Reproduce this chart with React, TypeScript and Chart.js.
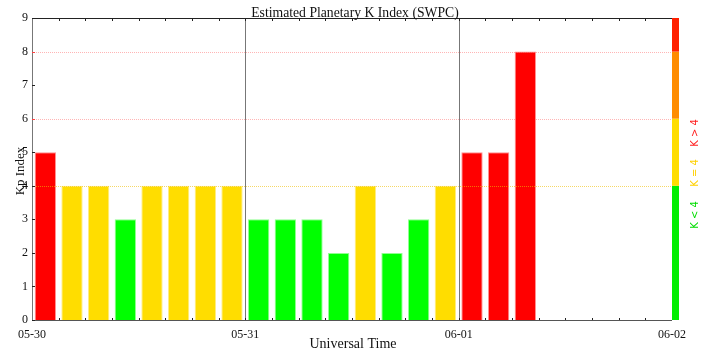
import React, { useEffect, useRef } from "react";
import { Chart, registerables } from "chart.js";

Chart.register(...registerables);

// ---- data ----
const dayLabels = ["05-30", "05-31", "06-01", "06-02"];
const timeSlots = [
  "05-30 00:00", "05-30 03:00", "05-30 06:00", "05-30 09:00",
  "05-30 12:00", "05-30 15:00", "05-30 18:00", "05-30 21:00",
  "05-31 00:00", "05-31 03:00", "05-31 06:00", "05-31 09:00",
  "05-31 12:00", "05-31 15:00", "05-31 18:00", "05-31 21:00",
  "06-01 00:00", "06-01 03:00", "06-01 06:00",
];
const kpValues = [5, 4, 4, 3, 4, 4, 4, 4, 3, 3, 3, 2, 4, 2, 3, 4, 5, 5, 8];
const yTickValues = [0, 1, 2, 3, 4, 5, 6, 7, 8, 9];
const titleText = "Estimated Planetary K Index (SWPC)";
const xTitleText = "Universal Time";
const yTitleText = "Kp Index";
const legendLabels = ["K < 4", "K = 4", "K > 4"];

const RED = "#ff0000";
const YELLOW = "#ffdd00";
const GREEN = "#00ff00";
const SERIF = "'Liberation Serif', 'DejaVu Serif', serif";

function slotToHours(s: string): number {
  const [d, t] = s.split(" ");
  const day = dayLabels.indexOf(d);
  const h = parseInt(t.split(":")[0], 10);
  return day * 24 + h + 1.5;
}

const decorPlugin = {
  id: "decor",
  beforeDatasetsDraw(chart: any) {
    const { ctx, chartArea: a, scales } = chart;
    const x = scales.x, y = scales.y;
    ctx.save();
    // day separators
    ctx.strokeStyle = "#777777";
    ctx.lineWidth = 1;
    [24, 48].forEach((h) => {
      const px = Math.round(x.getPixelForValue(h)) + 0.5;
      ctx.beginPath();
      ctx.moveTo(px, a.top);
      ctx.lineTo(px, a.bottom);
      ctx.stroke();
    });
    // red dotted lines
    ctx.strokeStyle = "rgba(255,120,120,0.55)";
    ctx.setLineDash([1, 1]);
    [6, 8].forEach((v) => {
      const py = Math.round(y.getPixelForValue(v)) + 0.5;
      ctx.beginPath();
      ctx.moveTo(a.left, py);
      ctx.lineTo(a.right, py);
      ctx.stroke();
    });
    ctx.restore();
  },
  afterDatasetsDraw(chart: any) {
    const { ctx, chartArea: a, scales } = chart;
    const x = scales.x, y = scales.y;
    ctx.save();
    // yellow dotted line at 4
    ctx.strokeStyle = "rgba(240,190,0,0.6)";
    ctx.setLineDash([1, 1]);
    {
      const py = Math.round(y.getPixelForValue(4)) + 0.5;
      ctx.beginPath();
      ctx.moveTo(a.left, py);
      ctx.lineTo(a.right, py);
      ctx.stroke();
    }
    ctx.setLineDash([]);
    // frame
    ctx.lineWidth = 1;
    ctx.strokeStyle = "#222222";
    ctx.beginPath();
    ctx.moveTo(a.left, a.top + 0.5);
    ctx.lineTo(a.right, a.top + 0.5);
    ctx.stroke();
    ctx.strokeStyle = "#555555";
    ctx.beginPath();
    ctx.moveTo(a.left, a.bottom + 0.5);
    ctx.lineTo(a.right, a.bottom + 0.5);
    ctx.stroke();
    ctx.strokeStyle = "#777777";
    ctx.beginPath();
    ctx.moveTo(a.left + 0.5, a.top);
    ctx.lineTo(a.left + 0.5, a.bottom + 1);
    ctx.stroke();
    // inward ticks
    ctx.strokeStyle = "#222222";
    for (let h = 3; h < 72; h += 3) {
      const px = Math.round(x.getPixelForValue(h)) + 0.5;
      ctx.beginPath();
      ctx.moveTo(px, a.top);
      ctx.lineTo(px, a.top + 3);
      ctx.moveTo(px, a.bottom);
      ctx.lineTo(px, a.bottom - 2);
      ctx.stroke();
    }
    yTickValues.forEach((v) => {
      const py = Math.round(y.getPixelForValue(v)) + 0.5;
      ctx.strokeStyle = v === 6 || v === 8 ? "#ff4040" : "#222222";
      ctx.beginPath();
      ctx.moveTo(a.left, py);
      ctx.lineTo(a.left + 3, py);
      ctx.stroke();
    });
    // colour bar
    const bands: [number, number, string][] = [
      [0, 4, "#00ee00"],
      [4, 6, "#ffdd00"],
      [6, 8, "#ff8c00"],
      [8, 9, "#ff2000"],
    ];
    bands.forEach(([lo, hi, c]) => {
      const y1 = y.getPixelForValue(hi);
      const y0 = y.getPixelForValue(lo);
      ctx.fillStyle = c;
      ctx.fillRect(a.right, y1, 7, y0 - y1);
    });
    // side labels
    ctx.font = "10px 'DejaVu Sans', sans-serif";
    ctx.textAlign = "center";
    ctx.textBaseline = "middle";
    const labelPos: [string, number, string][] = [
      [legendLabels[0], 215, "#00dd00"],
      [legendLabels[1], 173, "#ffd000"],
      [legendLabels[2], 133, "#ff2020"],
    ];
    labelPos.forEach(([t, cy, c]) => {
      ctx.save();
      ctx.translate(695, cy);
      ctx.rotate(-Math.PI / 2);
      ctx.fillStyle = c;
      ctx.fillText(t, 0, 0);
      ctx.restore();
    });
    // titles
    ctx.fillStyle = "#111111";
    ctx.font = "13.7px " + SERIF;
    ctx.fillText(titleText, 355, 13);
    ctx.font = "14px " + SERIF;
    ctx.fillText(xTitleText, 353, 344);
    ctx.save();
    ctx.translate(21, 171);
    ctx.rotate(-Math.PI / 2);
    ctx.font = "13px " + SERIF;
    ctx.fillText(yTitleText, 0, 0);
    ctx.restore();
    ctx.restore();
  },
};

export default function App() {
  const ref = useRef<HTMLCanvasElement | null>(null);
  useEffect(() => {
    document.body.style.margin = "0";
    const canvas = ref.current!;
    const data = timeSlots.map((s, i) => ({ x: slotToHours(s), y: kpValues[i] }));
    const colors = kpValues.map((v) => (v > 4 ? RED : v === 4 ? YELLOW : GREEN));
    const borders = kpValues.map((v) =>
      v > 4 ? "#ff9090" : v === 4 ? "#ffec80" : "#90ff90"
    );
    const chart = new Chart(canvas, {
      type: "bar",
      data: {
        datasets: [
          {
            data: data as any,
            backgroundColor: colors,
            borderColor: borders,
            borderWidth: 1,
            barPercentage: 0.8,
            categoryPercentage: 1,
          },
        ],
      },
      options: {
        animation: false,
        responsive: false,
        maintainAspectRatio: false,
        layout: { padding: { top: 18, right: 42, left: 0, bottom: 0 } },
        plugins: {
          legend: { display: false },
          title: { display: false },
          tooltip: { enabled: false },
        },
        scales: {
          x: {
            type: "linear",
            min: 0,
            max: 72,
            offset: false,
            grid: { display: false, drawTicks: false },
            border: { display: false },
            afterFit: (s: any) => {
              s.height = 39;
            },
            afterBuildTicks: (s: any) => {
              s.ticks = [0, 24, 48, 72].map((v) => ({ value: v }));
            },
            ticks: {
              autoSkip: false,
              maxRotation: 0,
              padding: 8,
              color: "#111111",
              font: { family: SERIF, size: 12 },
              callback: (v: any) => dayLabels[Math.round(Number(v) / 24)] ?? "",
            },
          },
          y: {
            min: 0,
            max: 9,
            grid: { display: false, drawTicks: false },
            border: { display: false },
            afterFit: (s: any) => {
              s.width = 32;
            },
            afterBuildTicks: (s: any) => {
              s.ticks = yTickValues.map((v) => ({ value: v }));
            },
            ticks: {
              padding: 4,
              color: "#111111",
              font: { family: SERIF, size: 12 },
            },
          },
        },
      },
      plugins: [decorPlugin],
    });
    return () => chart.destroy();
  }, []);
  return (
    <canvas
      ref={ref}
      width={714}
      height={359}
      style={{ display: "block", width: 714, height: 359 }}
    />
  );
}
